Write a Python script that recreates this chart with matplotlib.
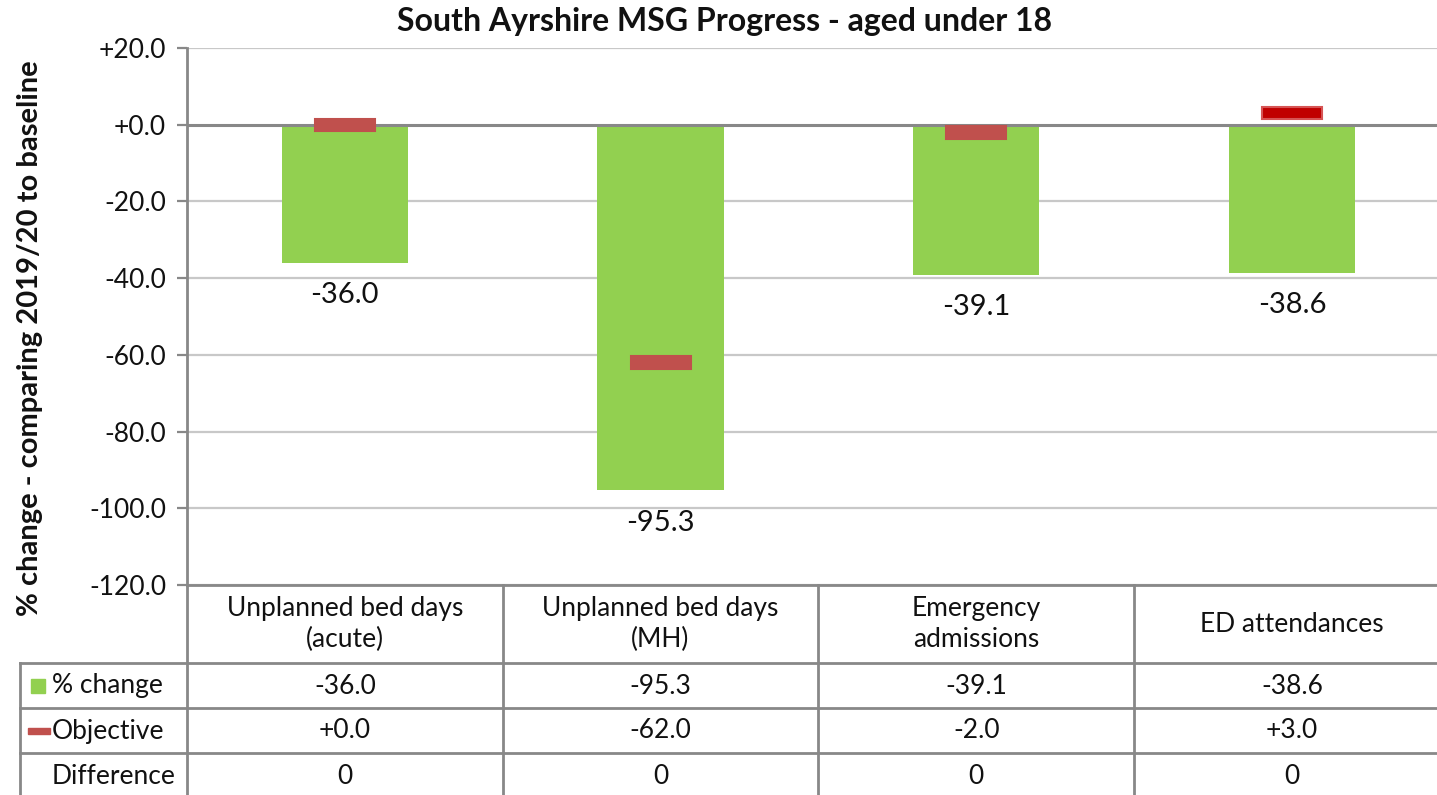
import matplotlib
matplotlib.use("Agg")
import matplotlib.pyplot as plt
from matplotlib.patches import Rectangle
from matplotlib.lines import Line2D

plt.rcParams['font.family'] = ['Lato', 'DejaVu Sans']

categories = ["Unplanned bed days\n(acute)", "Unplanned bed days\n(MH)",
              "Emergency\nadmissions", "ED attendances"]
pct_change = [-36.0, -95.3, -39.1, -38.6]
objective = [0.0, -62.0, -2.0, 3.0]
difference = [0, 0, 0, 0]
yticks = [20, 0, -20, -40, -60, -80, -100, -120]

W, H = 1437, 795
fig = plt.figure(figsize=(W / 100, H / 100), dpi=100)

left_px, right_px = 187, 187 + 4 * 315.7
top_px, bot_px = 48, 585
ax = fig.add_axes([left_px / W, 1 - bot_px / H, (right_px - left_px) / W, (bot_px - top_px) / H])

x = list(range(len(categories)))
ax.set_xlim(-0.5, 3.5)
ax.set_ylim(-120, 20)

TXT = '#111111'
FS = 19

# gridlines
for t in yticks:
    if t != 0:
        ax.axhline(t, color='#C8C8C8', lw=1.6, zorder=0)

ax.bar(x, pct_change, width=0.4, color='#92D050', zorder=2)
ax.axhline(0, color='#888888', lw=2.2, zorder=3)

mh = 3.2
for i, o in enumerate(objective):
    if i == 3:
        fc, ec = '#C00000', '#D65454'
    else:
        fc, ec = '#C0504D', '#C0504D'
    ax.bar(i, mh, bottom=o - mh / 2, width=0.19, color=fc, edgecolor=ec, lw=1.5, zorder=4)

# data labels
for i, v in enumerate(pct_change):
    ax.text(i, v - 8.5, f"{v:.1f}", ha='center', va='center', fontsize=21, color=TXT, zorder=5)

ax.set_yticks(yticks)
ax.set_yticklabels([f"{t:+.1f}" if t != 0 else "+0.0" for t in yticks], fontsize=FS, color=TXT)
ax.tick_params(axis='y', length=7, width=1.6, color='#888888', direction='out', pad=8)
ax.set_xticks([])
for s in ['top', 'right', 'bottom']:
    ax.spines[s].set_visible(False)
ax.spines['left'].set_color('#888888')
ax.spines['left'].set_linewidth(2)

fig.text(30 / W, 1 - 338 / H, "% change - comparing 2019/20 to baseline", rotation=90,
         ha='center', va='center', fontsize=21, fontweight='bold', color=TXT)
fig.text(725 / W, 1 - 22 / H, "South Ayrshire MSG Progress - aged under 18", ha='center',
         va='center', fontsize=23, fontweight='bold', color=TXT)

# ---- data table (figure pixel coords) ----
def fx(px):
    return px / W

def fy(py):
    return 1 - py / H

lc = '#888888'
lw = 2
bounds = [left_px + k * 315.7 for k in range(5)]
rows = [585, 663, 708, 753, 800]
fig.add_artist(Line2D([fx(left_px), fx(W + 20)], [fy(585), fy(585)], color=lc, lw=lw))
for r in rows[1:4]:
    fig.add_artist(Line2D([fx(20), fx(W + 20)], [fy(r), fy(r)], color=lc, lw=lw))
for b in bounds[:4]:
    fig.add_artist(Line2D([fx(b), fx(b)], [fy(585), fy(800)], color=lc, lw=lw))
fig.add_artist(Line2D([fx(20), fx(20)], [fy(663), fy(800)], color=lc, lw=lw))

for i, c in enumerate(categories):
    cx = (bounds[i] + bounds[i + 1]) / 2
    fig.text(fx(cx), fy(624), c, ha='center', va='center', fontsize=FS, linespacing=1.3,
             color=TXT)
    fig.text(fx(cx), fy(686), f"{pct_change[i]:.1f}", ha='center', va='center', fontsize=FS,
             color=TXT)
    fig.text(fx(cx), fy(731), f"{objective[i]:+.1f}", ha='center', va='center', fontsize=FS,
             color=TXT)
    fig.text(fx(cx), fy(776), f"{difference[i]}", ha='center', va='center', fontsize=FS,
             color=TXT)

# row headers with legend keys
fig.add_artist(Rectangle((fx(31), fy(693)), 14 / W, 14 / H, color='#92D050'))
fig.text(fx(52), fy(686), "% change", ha='left', va='center', fontsize=FS, color=TXT)
fig.add_artist(Rectangle((fx(28), fy(734)), 22 / W, 6 / H, color='#C0504D'))
fig.text(fx(52), fy(731), "Objective", ha='left', va='center', fontsize=FS, color=TXT)
fig.text(fx(52), fy(776), "Difference", ha='left', va='center', fontsize=FS, color=TXT)

fig.savefig("out.png", dpi=100)
